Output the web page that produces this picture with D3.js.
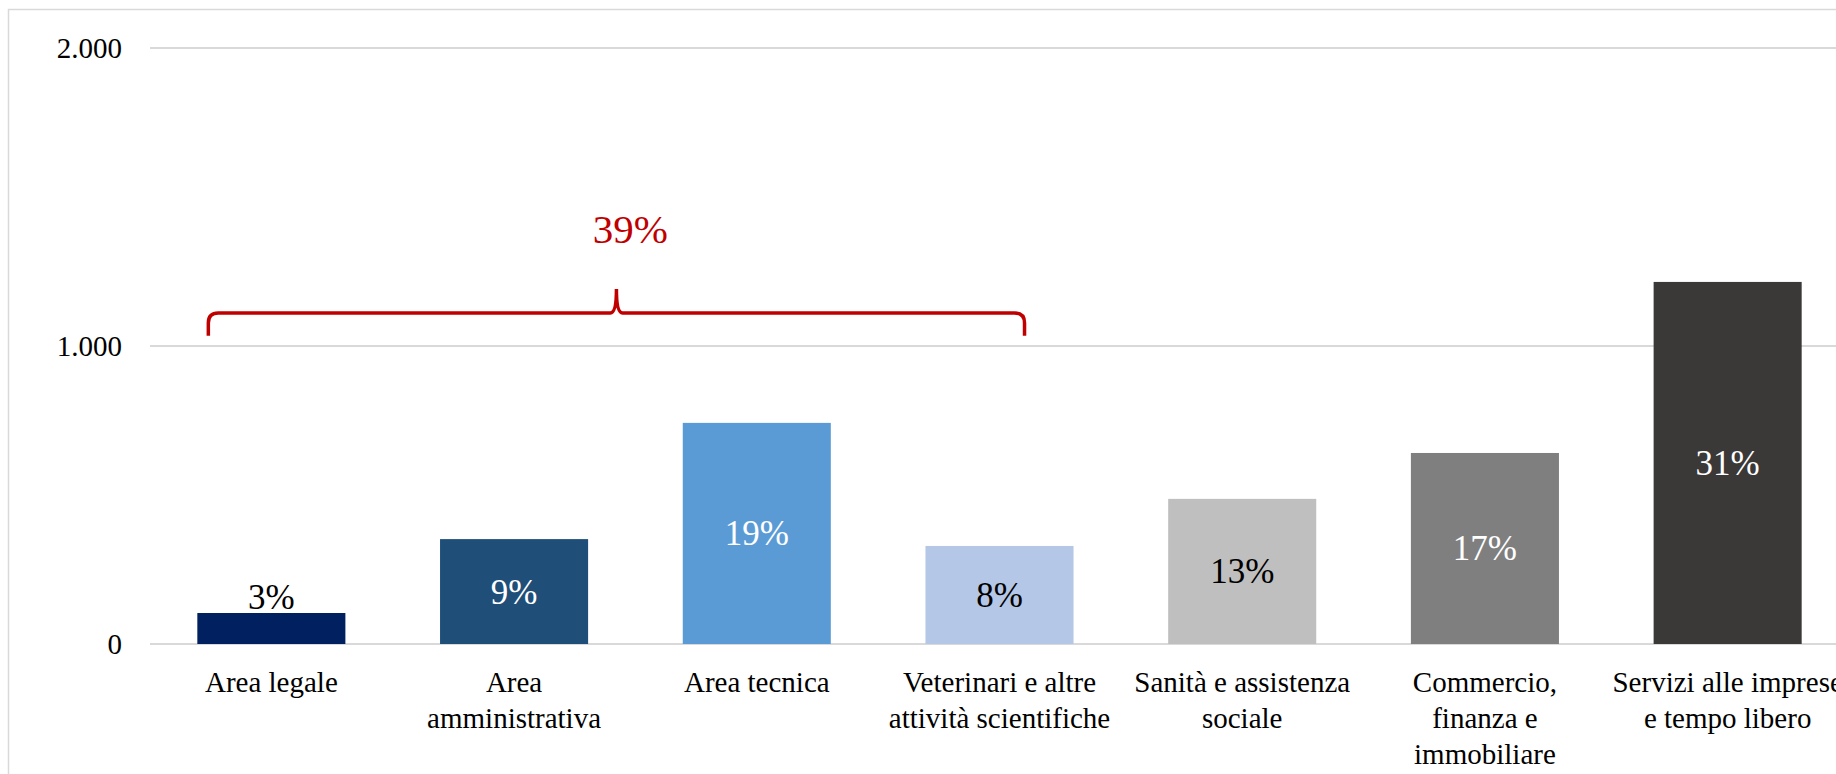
<!DOCTYPE html>
<html>
<head>
<meta charset="utf-8">
<script src="https://cdn.jsdelivr.net/npm/d3@7"></script>
<style>
  body { margin: 0; background: #fff; overflow: hidden; }
  svg { display: block; font-family: 'Liberation Serif', 'DejaVu Serif', serif; }
</style>
</head>
<body>
<svg width="1836" height="774"></svg>
<script>
// Chart data
let categories = ['Area legale', 'Area amministrativa', 'Area tecnica', 'Veterinari e altre attività scientifiche',
                  'Sanità e assistenza sociale', 'Commercio, finanza e immobiliare', 'Servizi alle imprese e tempo libero'];
let categoryLines = [
    ['Area legale'],
    ['Area', 'amministrativa'],
    ['Area tecnica'],
    ['Veterinari e altre', 'attività scientifiche'],
    ['Sanità e assistenza', 'sociale'],
    ['Commercio,', 'finanza e', 'immobiliare'],
    ['Servizi alle imprese', 'e tempo libero']
];
let values = [104, 352, 742, 329, 487, 641, 1215];
let shares = ['3%', '9%', '19%', '8%', '13%', '17%', '31%'];
let yTicks = [0, 1000, 2000];
let groupShare = '39%';

// Colours
let barColors = ['#002060', '#1F4E79', '#5B9BD5', '#B4C7E7', '#BFBFBF', '#7F7F7F', '#3B3838'];
let labelColors = ['#000', '#fff', '#fff', '#000', '#000', '#fff', '#fff'];

let svg = d3.select('svg');
let width = +svg.attr('width');
let height = +svg.attr('height');
let margin = {top: 48, left: 150, bottom: 130};
let plotRight = 1849;

let itLocale = d3.formatLocale({decimal: ',', thousands: '.', grouping: [3], currency: ['€', '']});
let fmt = itLocale.format(',');

// Frame
svg.append('rect')
    .attr('x', 8.5).attr('y', 9.5)
    .attr('width', 2000).attr('height', 1000)
    .attr('fill', '#fff')
    .attr('stroke', '#D9D9D9')
    .attr('stroke-width', 1.5);

let x = d3.scaleBand()
    .domain(categories)
    .range([margin.left, plotRight])
    .paddingInner(0.39)
    .paddingOuter(0.195);

let y = d3.scaleLinear()
    .domain([0, 2000])
    .range([644, margin.top]);

// Gridlines
svg.append('g')
    .selectAll('line')
    .data(yTicks)
    .enter().append('line')
    .attr('x1', margin.left)
    .attr('x2', width + 20)
    .attr('y1', d => y(d))
    .attr('y2', d => y(d))
    .attr('stroke', '#D9D9D9')
    .attr('stroke-width', 2);

// Y axis labels (no line, no ticks)
let yAxis = svg.append('g')
    .attr('transform', 'translate(' + (margin.left - 18) + ',0)')
    .call(d3.axisLeft(y).tickValues(yTicks).tickFormat(fmt).tickSize(0).tickPadding(10));
yAxis.select('.domain').remove();
yAxis.selectAll('text')
    .attr('font-family', 'Liberation Serif')
    .attr('font-size', '29px')
    .attr('fill', '#000');

// Bars
let rows = categories.map((c, i) => ({cat: c, value: values[i], share: shares[i], i: i}));

svg.append('g')
    .selectAll('rect')
    .data(rows)
    .enter().append('rect')
    .attr('x', d => x(d.cat))
    .attr('y', d => y(d.value))
    .attr('width', x.bandwidth())
    .attr('height', d => y(0) - y(d.value))
    .attr('fill', d => barColors[d.i]);

// Data labels: centred in the bar, above it when the bar is too short
svg.append('g')
    .selectAll('text')
    .data(rows)
    .enter().append('text')
    .attr('x', d => x(d.cat) + x.bandwidth() / 2)
    .attr('y', d => {
        let h = y(0) - y(d.value);
        return h < 50 ? y(d.value) - 4 : (y(0) + y(d.value)) / 2 + 12;
    })
    .attr('text-anchor', 'middle')
    .attr('font-size', '35px')
    .attr('fill', d => labelColors[d.i])
    .text(d => d.share);

// Category labels
let xLabels = svg.append('g')
    .selectAll('text')
    .data(rows)
    .enter().append('text')
    .attr('text-anchor', 'middle')
    .attr('font-size', '29px')
    .attr('fill', '#000')
    .attr('transform', d => 'translate(' + (x(d.cat) + x.bandwidth() / 2) + ',' + (y(0) + 48) + ')');

xLabels.selectAll('tspan')
    .data(d => categoryLines[d.i])
    .enter().append('tspan')
    .attr('x', 0)
    .attr('dy', (d, j) => j === 0 ? 0 : 36)
    .text(d => d);

// Brace over the first four groups
let bx0 = x(categories[0]) + 11;
let bx1 = x(categories[3]) + x.bandwidth() - 49;
let bmid = (bx0 + bx1) / 2;
let bEnd = y(1034), bLine = y(1111), bTop = y(1191);
let r = 10;
let brace = d3.path();
brace.moveTo(bx0, bEnd);
brace.lineTo(bx0, bLine + r);
brace.quadraticCurveTo(bx0, bLine, bx0 + r, bLine);
brace.lineTo(bmid - 6, bLine);
brace.quadraticCurveTo(bmid, bLine, bmid, bTop);
brace.quadraticCurveTo(bmid, bLine, bmid + 6, bLine);
brace.lineTo(bx1 - r, bLine);
brace.quadraticCurveTo(bx1, bLine, bx1, bLine + r);
brace.lineTo(bx1, bEnd);

svg.append('path')
    .attr('d', brace.toString())
    .attr('fill', 'none')
    .attr('stroke', '#C00000')
    .attr('stroke-width', 3.5);

svg.append('text')
    .attr('x', bmid + 14)
    .attr('y', y(1345))
    .attr('text-anchor', 'middle')
    .attr('font-size', '41px')
    .attr('fill', '#C00000')
    .text(groupShare);
</script>
</body>
</html>
